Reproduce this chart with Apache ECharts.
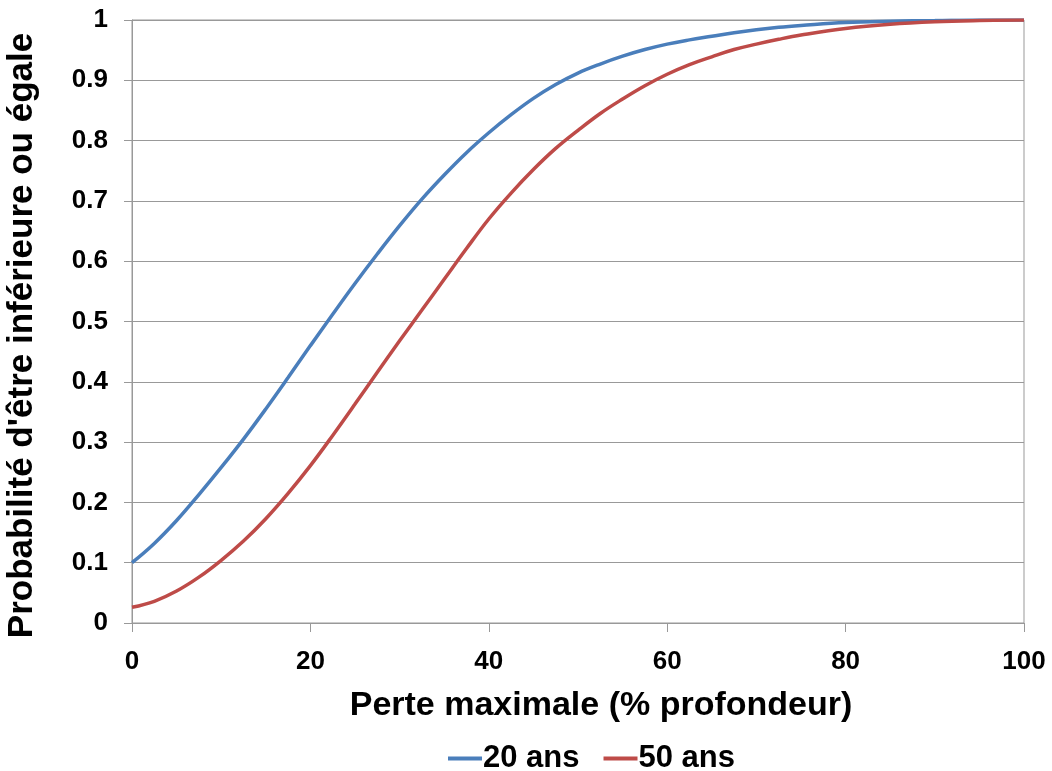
<!DOCTYPE html>
<html>
<head>
<meta charset="utf-8">
<script src="https://cdn.jsdelivr.net/npm/echarts@6/dist/echarts.min.js"></script>
<style>html,body{margin:0;padding:0;background:#fff}#c{width:1052px;height:771px}</style>
</head>
<body>
<div id="c"></div>
<script>
var xValues = [0,2.5,5,7.5,10,12.5,15,17.5,20,22.5,25,27.5,30,32.5,35,37.5,40,42.5,45,47.5,50,52.5,55,57.5,60,62.5,65,67.5,70,72.5,75,80,85,90,95,100];
var ans20 = [0.100,0.132,0.170,0.213,0.258,0.305,0.355,0.407,0.460,0.512,0.563,0.612,0.659,0.703,0.743,0.780,0.813,0.843,0.870,0.893,0.912,0.927,0.940,0.951,0.960,0.967,0.973,0.979,0.984,0.988,0.991,0.996,0.998,0.999,1.000,1.000];
var ans50 = [0.026,0.036,0.053,0.076,0.104,0.136,0.173,0.215,0.261,0.311,0.363,0.416,0.468,0.519,0.570,0.621,0.670,0.713,0.752,0.787,0.817,0.845,0.869,0.891,0.910,0.926,0.939,0.951,0.960,0.968,0.975,0.986,0.993,0.997,0.999,1.000];
var seriesNames = ['20 ans','50 ans'];
var xTitle = 'Perte maximale (% profondeur)';
var yTitle = "Probabilité d'être inférieure ou égale";

function pairs(ys){ return xValues.map(function(x,i){ return [x, ys[i]]; }); }
var font = '"Liberation Sans", Arial, sans-serif';
var chart = echarts.init(document.getElementById('c'), null, {renderer:'canvas'});
chart.setOption({
  animation:false,
  backgroundColor:'#fff',
  grid:{left:132,right:28,top:20,bottom:148,show:true,borderColor:'#999',borderWidth:1,
        outerBoundsMode:'none',containLabel:false},
  legend:{
    top:738, left:443, itemGap:24, itemWidth:34, itemHeight:4,
    data:[{name:seriesNames[0],icon:'rect'},{name:seriesNames[1],icon:'rect'}],
    textStyle:{fontFamily:font,fontWeight:'bold',fontSize:31,color:'#000',padding:[0,0,0,-4]}
  },
  xAxis:{
    type:'value', min:0, max:100, interval:20,
    name:xTitle, nameLocation:'middle', nameGap:66,
    nameTextStyle:{fontFamily:font,fontWeight:'bold',fontSize:34,color:'#000',padding:[0,0,0,46]},
    axisLine:{show:true,lineStyle:{color:'#999',width:1}},
    axisTick:{show:true,length:9,lineStyle:{color:'#999'}},
    axisLabel:{fontFamily:font,fontWeight:'bold',fontSize:26,color:'#000',margin:26},
    splitLine:{show:false}
  },
  yAxis:{
    type:'value', min:0, max:1, interval:0.1,
    name:yTitle, nameLocation:'middle', nameGap:92, nameRotate:90,
    nameTextStyle:{fontFamily:font,fontWeight:'bold',fontSize:35,color:'#000',padding:[0,28,0,0]},
    axisLine:{show:true,lineStyle:{color:'#999',width:1}},
    axisTick:{show:true,length:8,lineStyle:{color:'#999'}},
    axisLabel:{fontFamily:font,fontWeight:'bold',fontSize:26,color:'#000',margin:24,
      formatter:function(v){ return String(Math.round(v*10)/10); }},
    splitLine:{show:true,lineStyle:{color:'#999',width:1}}
  },
  series:[
    {name:seriesNames[0],type:'line',data:pairs(ans20),showSymbol:false,smooth:0.4,
     lineStyle:{color:'#4a7ebb',width:3.5},itemStyle:{color:'#4a7ebb'}},
    {name:seriesNames[1],type:'line',data:pairs(ans50),showSymbol:false,smooth:0.4,
     lineStyle:{color:'#be4b48',width:3.5},itemStyle:{color:'#be4b48'}}
  ]
});
</script>
</body>
</html>
